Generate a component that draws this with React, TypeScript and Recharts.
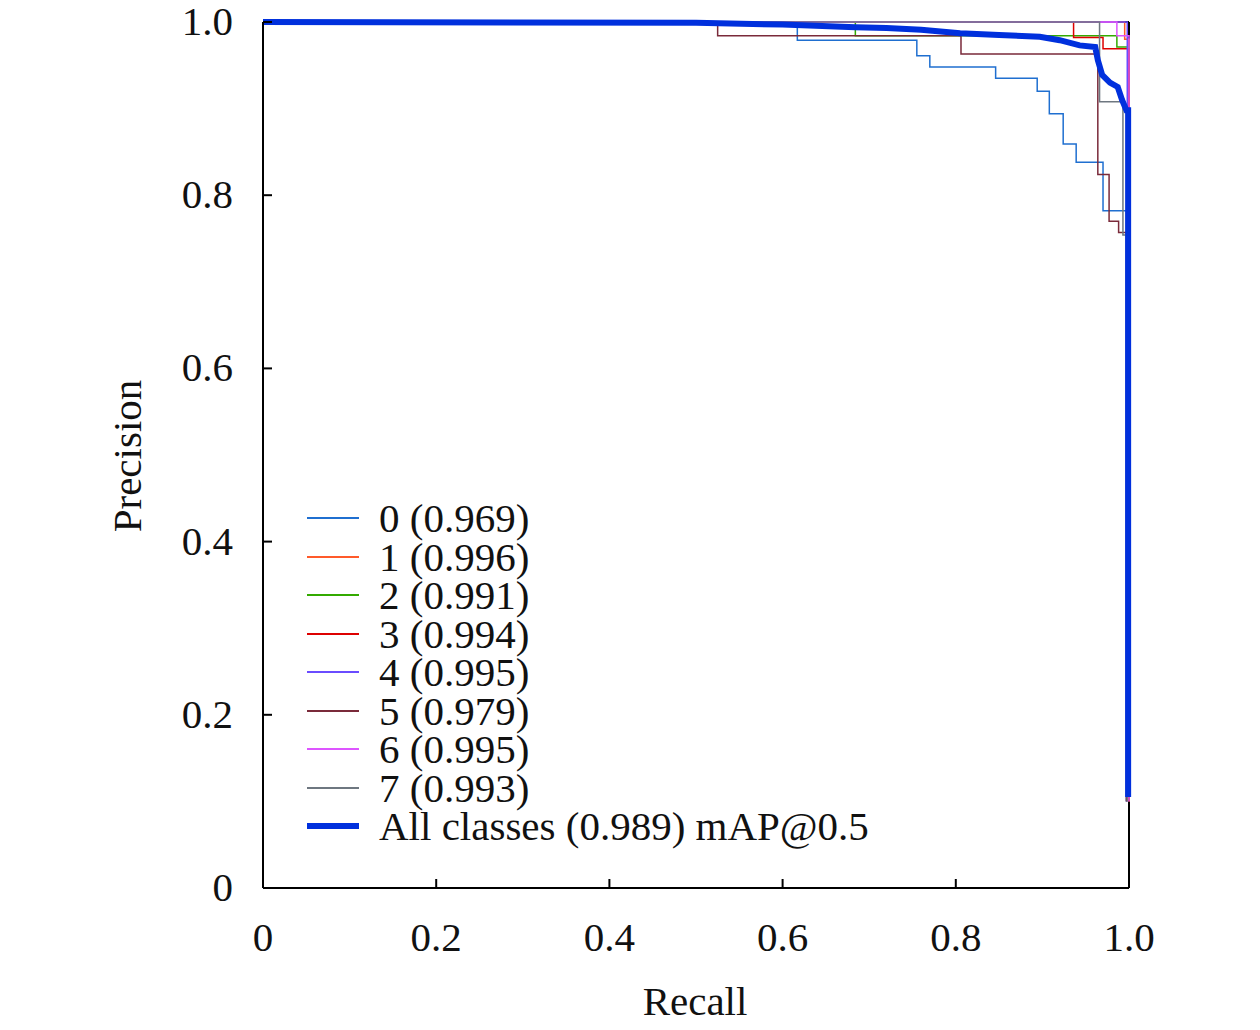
import { LineChart, Line, XAxis, YAxis, ReferenceLine } from "recharts";

const FONT = "'Liberation Serif', 'Times New Roman', serif";

const classNames = ["0", "1", "2", "3", "4", "5", "6", "7"];
const classAP = ["0.969", "0.996", "0.991", "0.994", "0.995", "0.979", "0.995", "0.993"];
const classColors = ["#1f6fd0", "#ff5a2a", "#33aa00", "#dd0000", "#6a4cff", "#7a2a3a", "#dd55ff", "#6e7780"];
const allColor = "#0030dd";
const ticks = [0, 0.2, 0.4, 0.6, 0.8, 1.0];

// [recall, precision] step vertices per class
const curve0 = [[0, 1], [0.617, 1], [0.617, 0.979], [0.755, 0.979], [0.755, 0.961], [0.77, 0.961], [0.77, 0.948], [0.846, 0.948], [0.846, 0.935], [0.894, 0.935], [0.894, 0.92], [0.908, 0.92], [0.908, 0.894], [0.924, 0.894], [0.924, 0.859], [0.939, 0.859], [0.939, 0.838], [0.97, 0.838], [0.97, 0.782], [0.997, 0.782], [0.997, 0.1]];
const curve1 = [[0, 1], [0.995, 1], [0.995, 0.98], [1, 0.98], [1, 0.1]];
const curve2 = [[0, 1], [0.684, 1], [0.684, 0.984], [0.986, 0.984], [0.986, 0.971], [1, 0.971], [1, 0.1]];
const curve3 = [[0, 1], [0.936, 1], [0.936, 0.982], [0.97, 0.982], [0.97, 0.969], [1, 0.969], [1, 0.1]];
const curve4 = [[0, 1], [0.998, 1], [0.998, 0.1]];
const curve5 = [[0, 1], [0.525, 1], [0.525, 0.984], [0.806, 0.984], [0.806, 0.963], [0.964, 0.963], [0.964, 0.824], [0.977, 0.824], [0.977, 0.77], [0.988, 0.77], [0.988, 0.757], [0.997, 0.757], [0.997, 0.1]];
const curve6 = [[0, 1], [0.986, 1], [0.986, 0.984], [1, 0.984], [1, 0.1]];
const curve7 = [[0, 1], [0.966, 1], [0.966, 0.908], [0.993, 0.908], [0.993, 0.754], [0.998, 0.754], [0.998, 0.1]];
const curveAll = [[0, 1], [0.5, 0.999], [0.6, 0.997], [0.684, 0.994], [0.72, 0.993], [0.76, 0.991], [0.805, 0.987], [0.85, 0.985], [0.897, 0.983], [0.92, 0.979], [0.943, 0.973], [0.961, 0.971], [0.964, 0.956], [0.969, 0.939], [0.978, 0.93], [0.987, 0.925], [0.992, 0.91], [0.997, 0.898], [0.999, 0.898], [0.999, 0.105]];

const curves = [curve0, curve1, curve2, curve3, curve4, curve5, curve6, curve7];
const toPts = (c: number[][]) => c.map(([r, p]) => ({ r, p }));

const fmt = (v: number) => (v === 0 ? "0" : v === 1 ? "1.0" : String(v));

function XTick(props: any) {
  const { x, y, payload } = props;
  return (
    <g>
      <line x1={x} x2={x} y1={y - 8} y2={y - 17} stroke="#000" strokeWidth={2} />
      <text x={x} y={y + 55} textAnchor="middle" fontSize={41} fontFamily={FONT} fill="#111">{fmt(payload.value)}</text>
    </g>
  );
}

function YTick(props: any) {
  const { x, y, payload } = props;
  return (
    <g>
      <line x1={x + 8} x2={x + 17} y1={y} y2={y} stroke="#000" strokeWidth={2} />
      <text x={x - 22} y={y + 13} textAnchor="end" fontSize={41} fontFamily={FONT} fill="#111">{fmt(payload.value)}</text>
    </g>
  );
}

function LegendBox() {
  const rows = classNames.map((n, i) => ({ label: `${n} (${classAP[i]})`, color: classColors[i], w: 2 }));
  rows.push({ label: "All classes (0.989) mAP@0.5", color: allColor, w: 6 });
  return (
    <div style={{ position: "absolute", left: 299, top: 491, fontFamily: FONT, fontSize: 41, color: "#111" }}>
      {rows.map((r) => (
        <div key={r.label} style={{ display: "flex", alignItems: "center", height: 38.5 }}>
          <div style={{ width: 52, height: r.w, background: r.color, marginRight: 20 }} />
          <span style={{ lineHeight: "38px" }}>{r.label}</span>
        </div>
      ))}
    </div>
  );
}

export default function App() {
  return (
    <div style={{ position: "relative", width: 1252, height: 1022 }}>
      <LineChart width={1252} height={1022} margin={{ top: 14, right: 131, left: 195, bottom: 92 }} style={{ overflow: "visible" }}>
        <XAxis type="number" dataKey="r" domain={[0, 1]} ticks={ticks} tick={<XTick />} tickLine={false}
          axisLine={{ stroke: "#000", strokeWidth: 2 }} height={50} allowDuplicatedCategory={false} />
        <YAxis type="number" dataKey="p" domain={[0, 1]} ticks={ticks} tick={<YTick />} tickLine={false}
          axisLine={{ stroke: "#000", strokeWidth: 2 }} width={60} />
        <ReferenceLine y={1} stroke="#000" strokeWidth={2} />
        <ReferenceLine x={1} stroke="#000" strokeWidth={2} />
        {curves.map((c, i) => (
          <Line key={i} data={toPts(c)} dataKey="p" type="linear" stroke={classColors[i]} strokeWidth={1.5}
            dot={false} isAnimationActive={false} />
        ))}
        <Line data={toPts(curveAll)} dataKey="p" type="linear" stroke={allColor} strokeWidth={6}
          dot={false} isAnimationActive={false} />
      </LineChart>
      <LegendBox />
      <div style={{ position: "absolute", left: 119, top: 448, transform: "translate(-50%,-50%) rotate(-90deg)", fontFamily: FONT, fontSize: 41, color: "#111" }}>Precision</div>
      <div style={{ position: "absolute", left: 687, top: 993, transform: "translate(-50%,-50%)", fontFamily: FONT, fontSize: 41, color: "#111" }}>Recall</div>
    </div>
  );
}
